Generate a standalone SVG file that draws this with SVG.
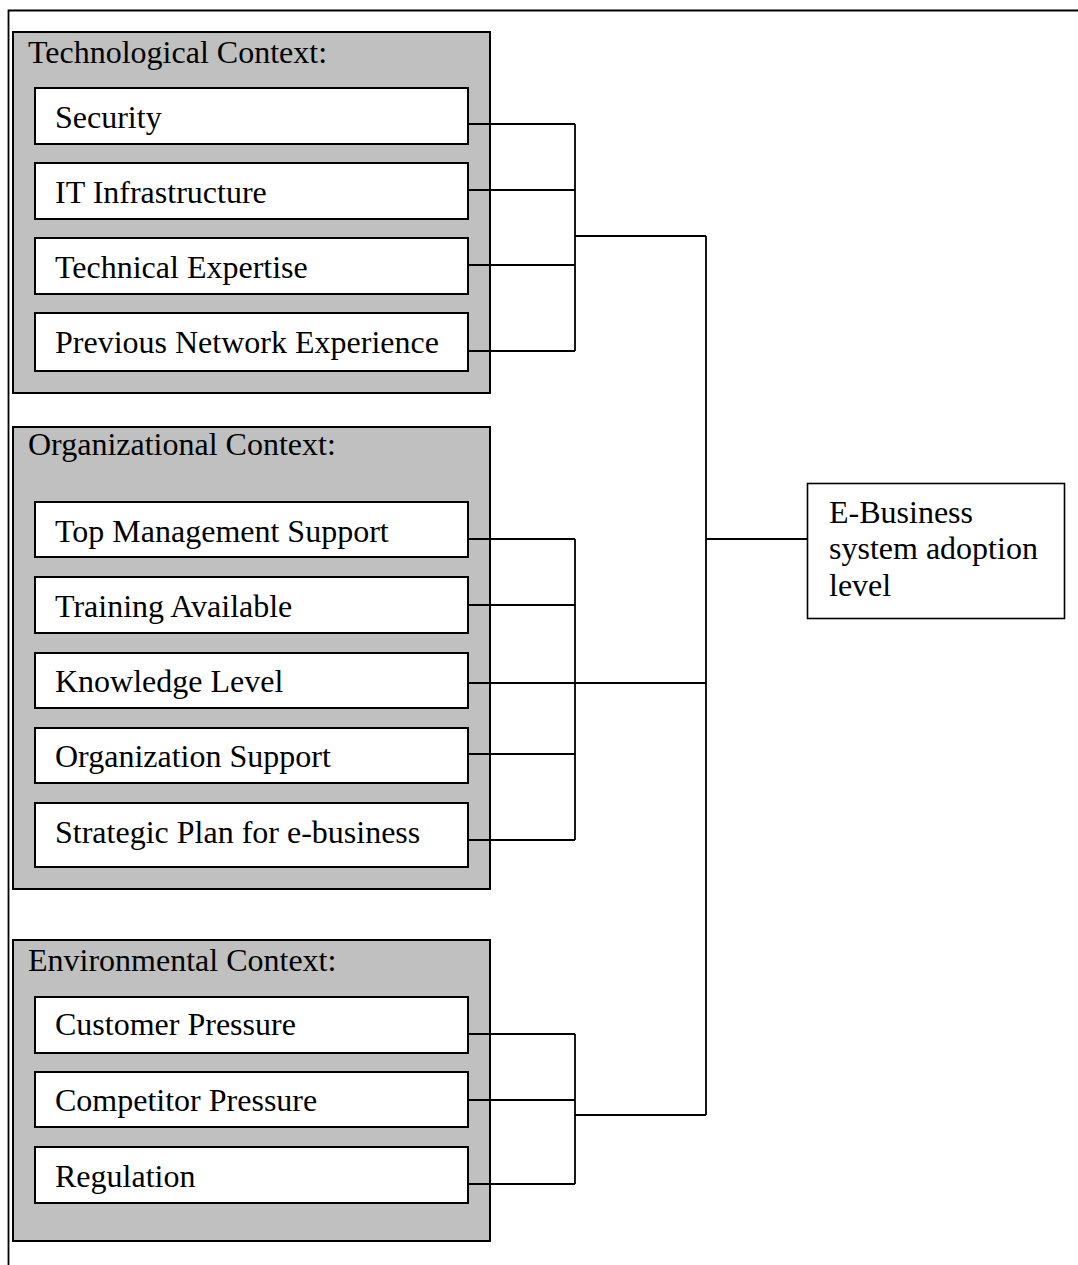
<svg xmlns="http://www.w3.org/2000/svg" width="1078" height="1265" viewBox="0 0 1078 1265">
<style>
.frame{fill:none;stroke:#000;stroke-width:1.8}
.grp{fill:#c0c0c0;stroke:#000;stroke-width:2}
.box{fill:#fff;stroke:#000;stroke-width:2}
.ob{fill:#fff;stroke:#000;stroke-width:1.6}
text{font-family:"Liberation Serif","Times New Roman",serif;font-size:32px;fill:#000}
.conn{fill:none;stroke:#000;stroke-width:1.8}
</style>
<rect width="1078" height="1265" fill="#fff"/>
<path class="frame" d="M8.5,1265 V10.5 H1078"/>
<g id="tech">
<rect class="grp" x="13" y="32" width="477" height="361"/>
<text x="28" y="63">Technological Context:</text>
</g>
<g id="security"><rect class="box" x="35" y="88" width="433" height="56"/><text x="55" y="128">Security</text></g>
<g id="it"><rect class="box" x="35" y="163" width="433" height="56"/><text x="55" y="203">IT Infrastructure</text></g>
<g id="techexp"><rect class="box" x="35" y="238" width="433" height="56"/><text x="55" y="278">Technical Expertise</text></g>
<g id="prevnet"><rect class="box" x="35" y="313" width="433" height="58"/><text x="55" y="353">Previous Network Experience</text></g>
<g id="org">
<rect class="grp" x="13" y="427" width="477" height="462"/>
<text x="28" y="455">Organizational Context:</text>
</g>
<g id="topmgmt"><rect class="box" x="35" y="502" width="433" height="55"/><text x="55" y="542">Top Management Support</text></g>
<g id="training"><rect class="box" x="35" y="577" width="433" height="56"/><text x="55" y="617">Training Available</text></g>
<g id="knowledge"><rect class="box" x="35" y="653" width="433" height="55"/><text x="55" y="692">Knowledge Level</text></g>
<g id="orgsupport"><rect class="box" x="35" y="728" width="433" height="55"/><text x="55" y="767">Organization Support</text></g>
<g id="strategic"><rect class="box" x="35" y="803" width="433" height="64"/><text x="55" y="843">Strategic Plan for e-business</text></g>
<g id="env">
<rect class="grp" x="13" y="940" width="477" height="301"/>
<text x="28" y="971">Environmental Context:</text>
</g>
<g id="customer"><rect class="box" x="35" y="997" width="433" height="56"/><text x="55" y="1035">Customer Pressure</text></g>
<g id="competitor"><rect class="box" x="35" y="1072" width="433" height="55"/><text x="55" y="1111">Competitor Pressure</text></g>
<g id="regulation"><rect class="box" x="35" y="1147" width="433" height="56"/><text x="55" y="1187">Regulation</text></g>
<g id="ebusiness">
<rect class="ob" x="807.5" y="483.5" width="257" height="135"/>
<text x="829" y="523">E-Business</text>
<text x="829" y="559">system adoption</text>
<text x="829" y="596">level</text>
</g>
<g id="connectors">
<path class="conn" d="M468,124 H575 M468,190 H575 M468,265 H575 M468,351 H575 M575,124 V351 M575,236 H706"/>
<path class="conn" d="M468,539 H575 M468,605 H575 M468,683 H706 M468,754 H575 M468,840 H575 M575,539 V840"/>
<path class="conn" d="M468,1034 H575 M468,1100 H575 M468,1184 H575 M575,1034 V1184 M575,1115 H706"/>
<path class="conn" d="M706,236 V1115 M706,539 H808"/>
</g>
</svg>
